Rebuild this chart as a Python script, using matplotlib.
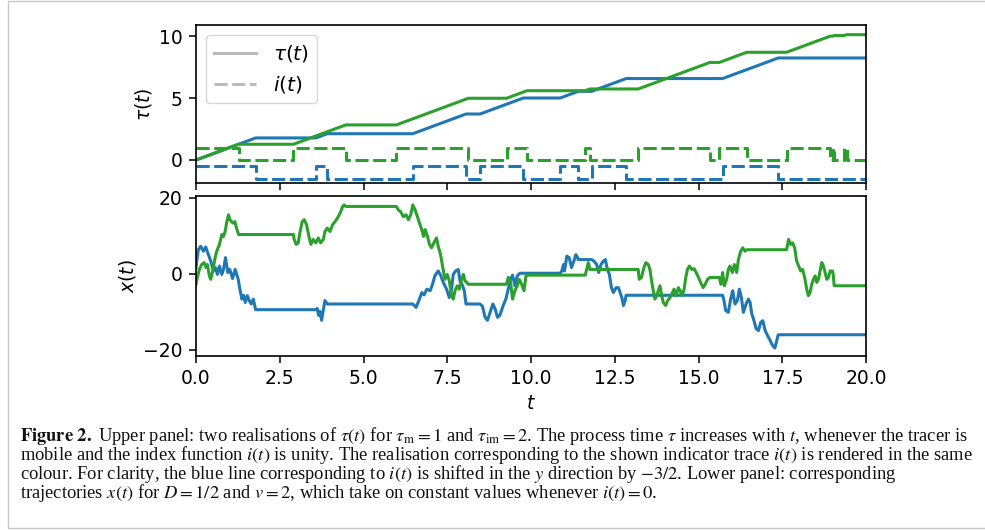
import numpy as np
import matplotlib
matplotlib.use("Agg")
import matplotlib.pyplot as plt
from matplotlib.patches import Rectangle
from matplotlib.lines import Line2D

# ---------------- data ----------------
T_END = 20.0
# switching times of the indicator i(t); both realisations start mobile (i=1)
blue_switch = [1.78, 3.58, 3.92, 6.47, 8.06, 8.48, 9.77, 10.87, 11.41, 11.81,
               12.84, 15.72, 17.38]
green_switch = [1.27, 2.91, 4.47, 5.98, 8.13, 9.27, 9.88, 11.62, 11.76, 13.20,
                15.34, 15.62, 16.44, 17.63, 18.93, 19.00, 19.05, 19.35, 19.42]
blue_shift = -1.5

# trajectories x(t): vertices (t, x)
blue_t = [0.00, 0.04, 0.07, 0.14, 0.22, 0.29, 0.37, 0.44, 0.52, 0.58, 0.64, 0.70,
          0.77, 0.82, 0.88, 0.95, 1.01, 1.09, 1.17, 1.26, 1.31, 1.37, 1.42, 1.47,
          1.53, 1.59, 1.65, 1.71, 1.78,
          3.58, 3.62, 3.66, 3.70, 3.75, 3.80, 3.85, 3.92,
          6.47, 6.57, 6.67, 6.74, 6.81, 6.89, 6.99, 7.06, 7.13, 7.23, 7.30, 7.38,
          7.48, 7.56, 7.63, 7.68, 7.75, 7.83, 7.88, 7.96, 8.01, 8.06,
          8.48, 8.55, 8.63, 8.70, 8.78, 8.86, 8.93, 9.00, 9.07, 9.17, 9.25, 9.32,
          9.39, 9.45, 9.52, 9.59, 9.67, 9.77,
          10.87, 10.92, 10.97, 11.00, 11.07, 11.14, 11.21, 11.28, 11.34, 11.39, 11.41,
          11.81, 11.88, 11.96, 12.02, 12.09, 12.16, 12.22, 12.28, 12.34, 12.40,
          12.46, 12.54, 12.61, 12.66, 12.71, 12.76, 12.81, 12.84,
          15.72, 15.76, 15.81, 15.89, 15.96, 16.02, 16.09, 16.16, 16.22, 16.28,
          16.34, 16.42, 16.49, 16.54, 16.59, 16.64, 16.72, 16.79, 16.86, 16.92,
          16.99, 17.06, 17.14, 17.21, 17.28, 17.35, 17.38, 20.0]
blue_x = [1.5, 4.5, 6.3, 7.2, 5.9, 7.0, 5.0, 3.3, 0.7, 1.6, -0.2, 2.0,
          -0.2, 1.1, 4.2, 0.3, 1.1, -1.3, 1.1, -1.5, -4.1, -6.7, -5.7, -7.6,
          -5.8, -7.1, -8.0, -6.7, -9.5,
          -9.5, -9.2, -11.0, -10.0, -12.3, -9.5, -7.1, -8.0,
          -8.0, -8.9, -6.7, -5.0, -5.6, -4.1, -4.5, -2.8, -0.6, 0.7, -0.4, -2.3,
          -4.1, -6.3, -4.1, -0.2, 0.7, 1.1, -1.9, -3.2, -4.6, -8.0,
          -8.0, -8.6, -11.5, -12.3, -10.2, -8.0, -9.3, -11.5, -11.0, -8.4, -6.7, -4.1,
          -1.5, -0.4, -3.2, -0.6, 0.1, 0.1,
          0.1, 0.7, 2.4, 0.7, 4.6, 4.2, 1.6, 3.3, 5.0, 4.2, 3.7,
          3.7, 3.3, 2.4, 0.3, 2.4, 3.3, 3.7, 1.1, -0.2, -3.7,
          -5.0, -3.7, -3.7, -5.0, -6.3, -8.4, -7.1, -5.7,
          -5.7, -7.1, -9.7, -10.2, -6.7, -4.5, -8.0, -7.1, -4.1, -6.3,
          -10.2, -8.0, -6.7, -7.6, -10.6, -11.9, -14.5, -15.0, -12.8, -12.4,
          -15.0, -16.3, -17.6, -18.9, -19.6, -17.1, -16.1, -16.1]

green_t = [0.00, 0.04, 0.10, 0.17, 0.24, 0.30, 0.34, 0.40, 0.44, 0.50, 0.57, 0.62,
           0.70, 0.77, 0.82, 0.87, 0.92, 0.97, 1.01, 1.06, 1.11, 1.16, 1.21, 1.27,
           2.91, 2.93, 2.99, 3.05, 3.10, 3.17, 3.23, 3.30, 3.37, 3.43, 3.50, 3.58,
           3.65, 3.72, 3.80, 3.85, 3.92, 4.00, 4.08, 4.15, 4.22, 4.30, 4.38, 4.42, 4.47,
           5.98, 6.04, 6.11, 6.19, 6.27, 6.34, 6.41, 6.47, 6.54, 6.61, 6.67, 6.74,
           6.79, 6.84, 6.91, 6.97, 7.03, 7.10, 7.18, 7.23, 7.30, 7.38, 7.43, 7.50,
           7.56, 7.63, 7.68, 7.73, 7.80, 7.86, 7.93, 7.98, 8.03, 8.08, 8.13,
           9.27, 9.32, 9.39, 9.45, 9.52, 9.59, 9.65, 9.72, 9.79, 9.85, 9.88,
           11.62, 11.66, 11.71, 11.76,
           13.20, 13.23, 13.30, 13.37, 13.43, 13.50, 13.55, 13.60, 13.65, 13.70,
           13.75, 13.80, 13.85, 13.90, 13.95, 14.02, 14.08, 14.15, 14.20, 14.27,
           14.33, 14.40, 14.45, 14.51, 14.57, 14.62, 14.67, 14.73, 14.80, 14.87,
           14.93, 15.00, 15.06, 15.14, 15.20, 15.27, 15.34,
           15.62, 15.67, 15.72, 15.77, 15.84, 15.89, 15.94, 16.01, 16.07, 16.14,
           16.19, 16.26, 16.32, 16.39, 16.44,
           17.63, 17.65, 17.69, 17.75, 17.81, 17.87, 17.93, 17.99, 18.05, 18.11,
           18.18, 18.23, 18.28, 18.33, 18.38, 18.43, 18.48, 18.53, 18.58, 18.63,
           18.68, 18.73, 18.78, 18.83, 18.88, 18.93,
           19.00, 19.02, 19.05, 20.0]
green_x = [-2.8, -1.0, 1.1, 2.4, 2.9, 1.6, 2.4, -0.6, -1.5, 0.7, 4.2, 5.9,
           7.7, 10.3, 9.8, 11.1, 13.7, 15.5, 14.2, 13.7, 13.3, 13.7, 12.0, 10.3,
           10.3, 9.0, 7.7, 8.1, 10.7, 13.7, 14.2, 12.9, 9.8, 7.7, 9.0, 8.1,
           9.4, 8.1, 9.0, 11.1, 12.0, 11.1, 12.9, 13.7, 14.6, 15.9, 17.7, 18.1, 17.7,
           17.7, 16.8, 16.3, 15.0, 15.5, 14.2, 15.5, 18.1, 16.8, 15.0, 13.3, 11.6,
           9.8, 11.6, 9.8, 7.7, 6.8, 8.1, 9.4, 7.2, 5.0, 1.1, -1.5, -0.2,
           -1.9, -5.8, -6.7, -4.5, -3.2, -4.1, -1.5, -0.2, -1.9, -2.3, -2.8,
           -2.8, -1.0, -2.3, -6.7, -4.5, -3.2, -1.5, -2.8, -4.5, -0.6, -0.4,
           -0.4, 1.1, 2.9, 1.1,
           1.1, -1.5, -1.0, 1.6, 2.9, 2.4, 1.1, -1.9, -4.5, -6.7,
           -5.8, -4.5, -3.2, -5.8, -7.6, -8.4, -7.1, -6.3, -5.4, -4.1,
           -5.8, -3.7, -4.5, -5.8, -4.1, -1.0, 1.1, 2.0, 1.1, 1.3,
           0.3, -1.0, -2.3, -3.7, -2.8, -1.5, -1.0,
           -1.0, -2.8, 0.3, -3.2, -1.5, 1.1, 2.0, 0.3, 2.4, 0.3,
           3.7, 5.9, 6.8, 5.9, 6.3,
           6.3, 7.2, 9.0, 7.7, 8.1, 6.8, 3.3, 2.0, 0.7, 1.1,
           -1.5, -4.1, -5.8, -5.0, -2.8, -1.5, -0.6, -2.3, -1.5, 0.7,
           2.9, 2.0, 0.3, -1.5, -1.0, 0.7,
           0.7, -0.2, -3.2, -3.2]

caption_lines = [
    r"$\mathbf{Figure\ 2.}$ Upper panel: two realisations of $\tau(t)$ for $\tau_\mathrm{m}=1$ and "
    r"$\tau_\mathrm{im}=2$. The process time $\tau$ increases with $t$, whenever the tracer is",
    r"mobile and the index function $i(t)$ is unity. The realisation corresponding to the "
    r"shown indicator trace $i(t)$ is rendered in the same",
    r"colour. For clarity, the blue line corresponding to $i(t)$ is shifted in the $y$ "
    r"direction by $-3/2$. Lower panel: corresponding",
    r"trajectories $x(t)$ for $D=1/2$ and $v=2$, which take on constant values whenever $i(t)=0$.",
]

BLUE = "#1f77b4"
GREEN = "#2ca02c"


def indicator(sw):
    times = np.concatenate([[0.0], sw, [T_END]])
    vals = np.array([1 - (k % 2) for k in range(len(times) - 1)], dtype=float)
    return times, np.append(vals, vals[-1])


def process_time(sw):
    times = np.concatenate([[0.0], sw, [T_END]])
    mobile = np.array([1 - (k % 2) for k in range(len(times) - 1)], dtype=float)
    tau = np.concatenate([[0.0], np.cumsum(np.diff(times) * mobile)])
    return times, tau


plt.rcParams["axes.linewidth"] = 1.2
plt.rcParams["xtick.major.size"] = 5
plt.rcParams["ytick.major.size"] = 5
plt.rcParams["xtick.major.width"] = 1.1
plt.rcParams["ytick.major.width"] = 1.1
plt.rcParams["xtick.major.pad"] = 4.5
plt.rcParams["ytick.major.pad"] = 4.5

FS = 13.5
LW = 2.2
W, H = 985.0, 531.0

fig = plt.figure(figsize=(9.85, 5.31), dpi=100)
fig.patch.set_facecolor("white")

ax1 = fig.add_axes([196 / W, 1 - 183.3 / H, 670 / W, 158.3 / H])
ax2 = fig.add_axes([196 / W, 1 - 356 / H, 670 / W, 160 / H], sharex=ax1)

dash = (0, (4.3, 1.5))
for sw, col in [(blue_switch, BLUE), (green_switch, GREEN)]:
    tt, tau = process_time(sw)
    ax1.plot(tt, tau, color=col, lw=LW)
for sw, col, shift in [(blue_switch, BLUE, blue_shift), (green_switch, GREEN, 0.0)]:
    ti, iv = indicator(sw)
    ax1.step(ti, iv + shift, where="post", color=col, lw=LW, linestyle=dash)

ax2.plot(blue_t, blue_x, color=BLUE, lw=LW)
ax2.plot(green_t, green_x, color=GREEN, lw=LW)

ax1.set_xlim(0, 20)
ax1.set_ylim(-1.88, 10.89)
ax2.set_ylim(-21.7, 20.45)
ax1.set_yticks([0, 5, 10])
ax2.set_yticks([-20, 0, 20])
ax1.set_xticks(np.arange(0, 20.01, 2.5))
ax1.tick_params(labelbottom=False, labelsize=FS)
ax2.tick_params(labelsize=FS)
ax1.set_ylabel(r"$\tau(t)$", fontsize=FS)
ax2.set_ylabel(r"$x(t)$", fontsize=FS)
ax2.set_xlabel(r"$t$", fontsize=FS)

handles = [Line2D([], [], color="#bbbbbb", lw=LW),
           Line2D([], [], color="#bbbbbb", lw=LW, linestyle=dash)]
ax1.legend(handles, [r"$\tau(t)$", r"$i(t)$"], loc="upper left", fontsize=14.5,
           handlelength=2.1)

# frame around the figure
fig.add_artist(Rectangle((8 / W, 1 - 528 / H), 1.0, 527 / H, transform=fig.transFigure,
                         fill=False, edgecolor="#c8c8c8", lw=1.0))

# caption: one multi-line text, baseline pitch tuned to ~19 px
CFS = 13.3
PITCH = 19.0
FIRST_BASE = 441.0
cap_kw = dict(fontsize=CFS, family="Liberation Serif", math_fontfamily="stix",
              ha="left", color="#111111")
caption = "\n".join(caption_lines)
renderer = fig.canvas.get_renderer()
n = len(caption_lines)


def top_above_base(txt, ls):
    # distance (px) from the last line's baseline to the top of the text box
    t = fig.text(20 / W, 0.5, txt, linespacing=ls, va="baseline", **cap_kw)
    y1 = t.get_window_extent(renderer).y1
    t.remove()
    return y1 - 0.5 * H


first_asc = top_above_base(caption_lines[0], 1.0)
p1 = (top_above_base(caption, 1.0) - first_asc) / (n - 1)
p2 = (top_above_base(caption, 2.0) - first_asc) / (n - 1)
slope = p2 - p1
ls = 1.0 + (PITCH - p1) / slope if slope > 0 else 1.0
pitch_real = p1 + slope * (ls - 1.0)
last_base = FIRST_BASE + (n - 1) * pitch_real
fig.text(20 / W, 1 - last_base / H, caption, linespacing=ls, va="baseline", **cap_kw)

fig.savefig("out.png", dpi=100)
